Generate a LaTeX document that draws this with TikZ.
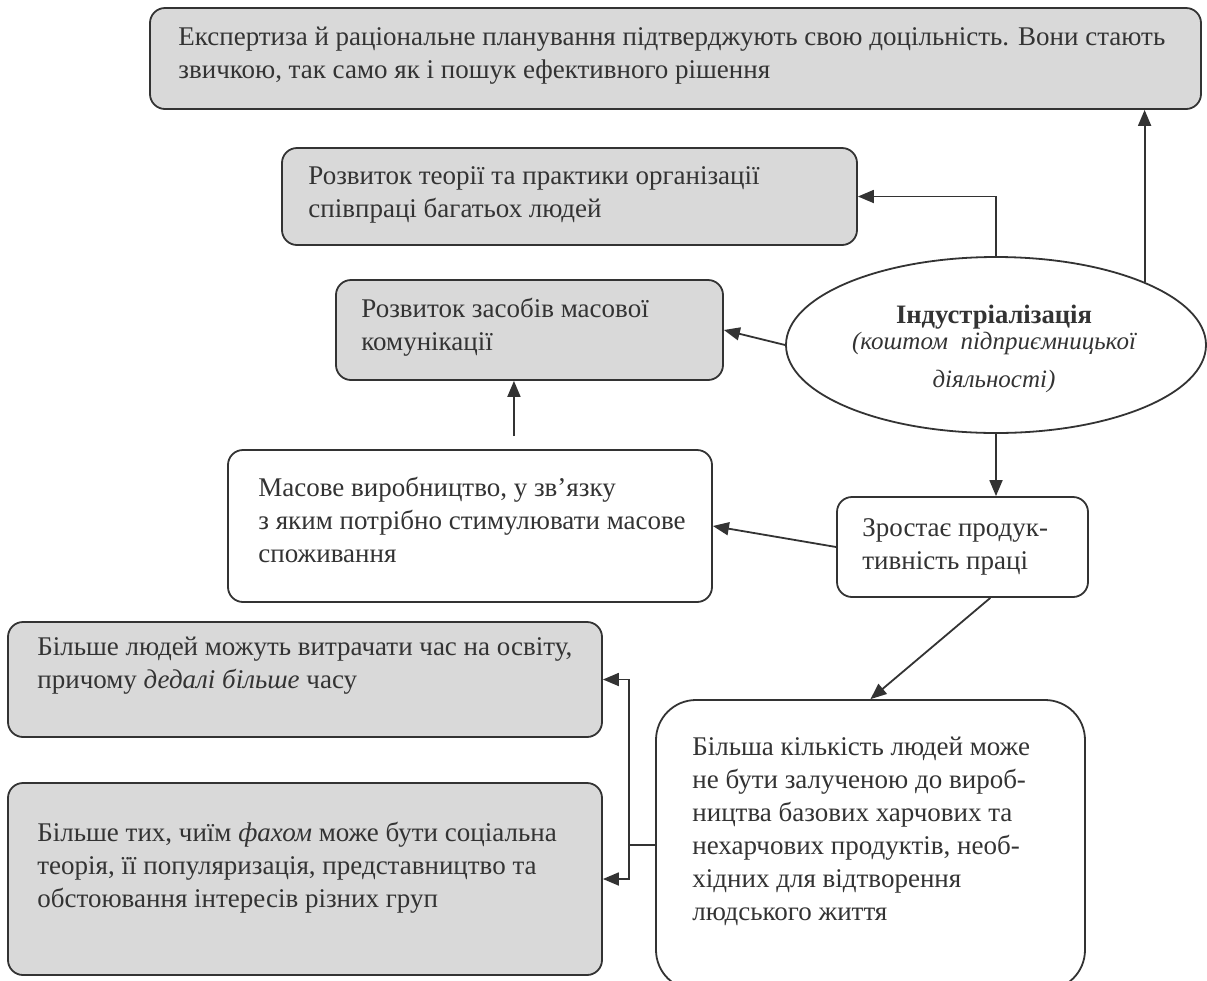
\documentclass[tikz,border=0pt]{standalone}
\usepackage{fontspec}
\setmainfont{Liberation Serif}
\usetikzlibrary{shapes.geometric,arrows.meta,fit,calc}
\definecolor{ink}{HTML}{333333}
\definecolor{boxgray}{HTML}{D9D9D9}
\tikzset{
  gbox/.style={draw=ink, line width=0.9pt, rounded corners=7.5pt, fill=boxgray, inner sep=0pt},
  wbox/.style={draw=ink, line width=0.9pt, rounded corners=7.5pt, fill=white, inner sep=0pt},
  txt/.style={anchor=north west, inner sep=0pt, align=left, text=ink,
    font=\fontsize{13.5pt}{16.5pt}\selectfont},
  arr/.style={draw=ink, line width=0.9pt, -{Triangle[length=8pt,width=6.5pt]}},
  conn/.style={draw=ink, line width=0.9pt}
}
\begin{document}
\begin{tikzpicture}[x=0.5pt,y=-0.5pt]
\useasboundingbox (0,0) rectangle (1207,981);
\fill[white] (0,0) rectangle (1207,981);
\clip (0,0) rectangle (1207,981);

% boxes
\node[gbox, fit={(150,8) (1201,109)}] (b1) {};
\node[gbox, fit={(282,148) (857,245)}] (b2) {};
\node[gbox, fit={(336,280) (723,380)}] (b3) {};
\node[wbox, fit={(228,450) (712,602)}] (mas) {};
\node[wbox, fit={(837,497) (1088,597)}] (zr) {};
\node[wbox, rounded corners=20pt, fit={(656,700) (1085,990)}] (bil) {};
\node[gbox, fit={(8,622) (602,737)}] (bl1) {};
\node[gbox, fit={(8,783) (602,975)}] (bl2) {};
\node[draw=ink, line width=0.9pt, fill=white, ellipse, inner sep=0pt,
      minimum width=210pt, minimum height=88pt] (ind) at (996,345) {};

% texts
\node[txt] (t1) at (178,27) {Експертиза й раціональне планування підтверджують свою доцільність. Вони стають\\звичкою, так само як і пошук ефективного рішення};
\node[txt] (t2) at (308,166) {Розвиток теорії та практики організації\\співпраці багатьох людей};
\node[txt] (t3) at (361,298) {Розвиток засобів масової\\комунікації};
\node[txt] (tmas) at (258,477) {Масове виробництво, у зв’язку\\з яким потрібно стимулювати масове\\споживання};
\node[txt] (tzr) at (862,518) {Зростає продук-\\тивність праці};
\node[txt] (tbil) at (692,737) {Більша кількість людей може\\не бути залученою до вироб-\\ництва базових харчових та\\нехарчових продуктів, необ-\\хідних для відтворення\\людського життя};
\node[txt] (tbl1) at (37,637) {Більше людей можуть витрачати час на освіту,\\причому \textit{дедалі більше} часу};
\node[txt] (tbl2) at (37,822) {Більше тих, чиїм \textit{фахом} може бути соціальна\\теорія, її популяризація, представництво та\\обстоювання інтересів різних груп};
\node[anchor=north, inner sep=0pt, align=center, text=ink] (tind) at (994,305)
  {{\fontsize{13.3pt}{15pt}\selectfont\bfseries Індустріалізація}\\[1pt]
   {\fontsize{12.5pt}{14pt}\selectfont\itshape (коштом\ \ підприємницької}\\[7pt]
   {\fontsize{12.5pt}{14pt}\selectfont\itshape діяльності)}};

% connectors
\coordinate (m) at ($(b3.south west)!0.46!(b3.south east)$);
\draw[arr] (ind.23) -- (ind.23 |- b1.south);
\draw[arr] (ind.north) |- (b2.east);
\draw[arr] (ind.west) -- (b3.east);
\draw[arr, shorten <=6.5pt] (m |- mas.north) -- (m);
\draw[arr] (ind.south) -- (ind.south |- zr.north);
\draw[arr] (zr.west) -- (mas.east);
\draw[arr] ($(zr.south west)!0.61!(zr.south east)$) -- (bil.north);
\draw[conn] (bil.west) -- ++(-26,0) coordinate (j);
\draw[arr] (j) |- (bl1.east);
\draw[arr] (j) |- (bl2.east);
\end{tikzpicture}
\end{document}
